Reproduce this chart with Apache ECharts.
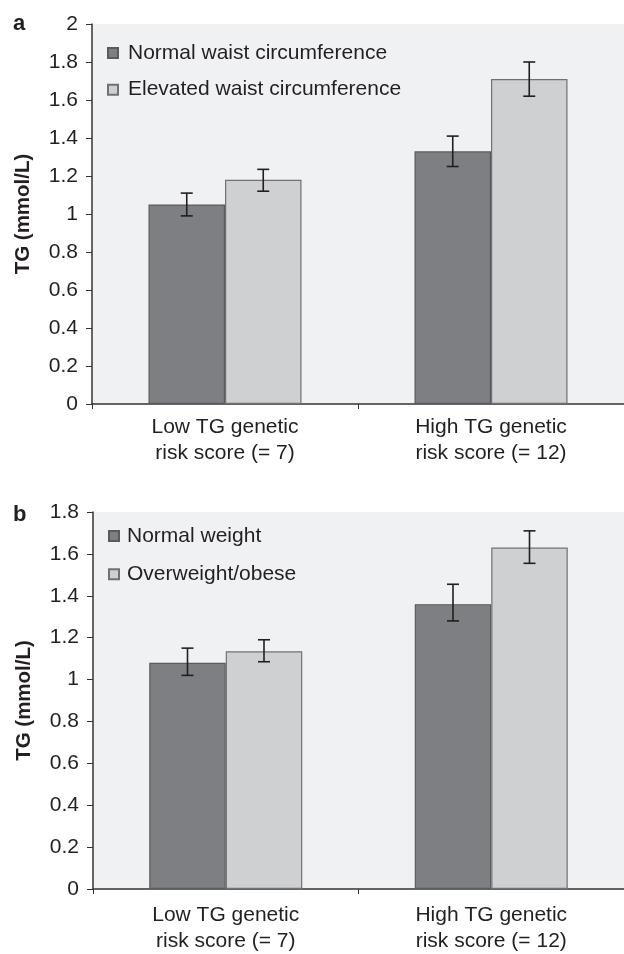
<!DOCTYPE html>
<html>
<head>
<meta charset="utf-8">
<script src="https://cdn.jsdelivr.net/npm/echarts@6/dist/echarts.min.js"></script>
<style>
html,body{margin:0;padding:0;background:#fff;}
#chart{width:624px;height:954px;}
</style>
</head>
<body>
<div id="chart"></div>
<script>
// ---- Data ----
const categories = ['Low TG genetic\nrisk score (= 7)', 'High TG genetic\nrisk score (= 12)'];
const yTicksA = [0, 0.2, 0.4, 0.6, 0.8, 1, 1.2, 1.4, 1.6, 1.8, 2];
const yTicksB = [0, 0.2, 0.4, 0.6, 0.8, 1, 1.2, 1.4, 1.6, 1.8];

const seriesNamesA = ['Normal waist circumference', 'Elevated waist circumference'];
const normalWaist = [1.05, 1.33];
const normalWaistLow = [0.99, 1.25];
const normalWaistHigh = [1.11, 1.41];
const elevatedWaist = [1.18, 1.71];
const elevatedWaistLow = [1.12, 1.62];
const elevatedWaistHigh = [1.235, 1.80];

const seriesNamesB = ['Normal weight', 'Overweight/obese'];
const normalWeight = [1.08, 1.36];
const normalWeightLow = [1.02, 1.28];
const normalWeightHigh = [1.15, 1.455];
const overweight = [1.135, 1.63];
const overweightLow = [1.085, 1.555];
const overweightHigh = [1.19, 1.71];

// ---- Styles ----
const FONT = 'Liberation Sans';
const TXT = '#231f20';
const DARK = '#7e7f83', DARK_B = '#5a5b5e';
const LIGHT = '#cfd0d2', LIGHT_B = '#707174';
const BG = '#f0f1f3';
const BAR_W = 76.5;

const chart = echarts.init(document.getElementById('chart'));

function errSeries(name, gridIdx, lows, highs, side) {
  return {
    type: 'custom', name: name + '_err', xAxisIndex: gridIdx, yAxisIndex: gridIdx,
    silent: true, z: 5,
    data: lows.map((l, i) => [i, l, highs[i]]),
    renderItem: function (params, api) {
      const lo = api.coord([api.value(0), api.value(1)]);
      const hi = api.coord([api.value(0), api.value(2)]);
      const x = lo[0] + side * BAR_W / 2;
      const c = 6;
      const st = { stroke: TXT, lineWidth: 1.6 };
      return { type: 'group', children: [
        { type: 'line', shape: { x1: x, y1: lo[1], x2: x, y2: hi[1] }, style: st },
        { type: 'line', shape: { x1: x - c, y1: lo[1], x2: x + c, y2: lo[1] }, style: st },
        { type: 'line', shape: { x1: x - c, y1: hi[1], x2: x + c, y2: hi[1] }, style: st }
      ]};
    }
  };
}

function barSeries(name, gridIdx, data, color, border) {
  return {
    type: 'bar', name: name, xAxisIndex: gridIdx, yAxisIndex: gridIdx,
    data: data, barWidth: BAR_W, barGap: '0%',
    itemStyle: { color: color, borderColor: border, borderWidth: 1.2 }
  };
}

function xAxis(gridIdx, margin) {
  return {
    type: 'category', gridIndex: gridIdx, data: categories,
    axisLine: { lineStyle: { color: '#333', width: 1.5 } },
    axisTick: { show: true, length: 5, lineStyle: { color: '#333' } },
    axisLabel: { fontFamily: FONT, fontSize: 21, color: TXT, lineHeight: 26, margin: margin }
  };
}

function yAxis(gridIdx, max) {
  return {
    type: 'value', gridIndex: gridIdx, min: 0, max: max, interval: 0.2,
    name: 'TG (mmol/L)', nameLocation: 'middle', nameGap: 58,
    nameTextStyle: { fontFamily: FONT, fontSize: 20.5, fontWeight: 'bold', color: TXT },
    splitLine: { show: false },
    axisLine: { show: true, lineStyle: { color: '#333', width: 1.5 } },
    axisTick: { show: true, length: 6, lineStyle: { color: '#333' } },
    axisLabel: { fontFamily: FONT, fontSize: 21, color: TXT, margin: 14 }
  };
}

const option = {
  animation: false,
  backgroundColor: '#fff',
  grid: [
    { left: 92, top: 24, height: 380, right: 0, show: true, backgroundColor: BG, borderWidth: 0 },
    { left: 93, top: 512, height: 380, right: 0, show: true, backgroundColor: BG, borderWidth: 0 }
  ],
  graphic: [
    { type: 'text', left: 13, top: 13, style: { text: 'a', font: 'bold 22px "Liberation Sans"', fill: TXT } },
    { type: 'text', left: 13, top: 504, style: { text: 'b', font: 'bold 22px "Liberation Sans"', fill: TXT } }
  ],
  legend: [
    { data: seriesNamesA, orient: 'vertical', left: 102, top: 37, itemWidth: 10, itemHeight: 10, itemGap: 14.7,
      icon: 'rect',
      textStyle: { fontFamily: FONT, fontSize: 21, color: TXT, lineHeight: 22, padding: [0, 0, 0, 5] } },
    { data: seriesNamesB, orient: 'vertical', left: 103, top: 520, itemWidth: 10, itemHeight: 10, itemGap: 16.3,
      icon: 'rect',
      textStyle: { fontFamily: FONT, fontSize: 21, color: TXT, lineHeight: 22, padding: [0, 0, 0, 3] } }
  ],
  xAxis: [xAxis(0, 10), xAxis(1, 13)],
  yAxis: [yAxis(0, 2), yAxis(1, 1.8)],
  series: [
    barSeries(seriesNamesA[0], 0, normalWaist, DARK, DARK_B),
    barSeries(seriesNamesA[1], 0, elevatedWaist, LIGHT, LIGHT_B),
    errSeries(seriesNamesA[0], 0, normalWaistLow, normalWaistHigh, -1),
    errSeries(seriesNamesA[1], 0, elevatedWaistLow, elevatedWaistHigh, 1),
    barSeries(seriesNamesB[0], 1, normalWeight, DARK, DARK_B),
    barSeries(seriesNamesB[1], 1, overweight, LIGHT, LIGHT_B),
    errSeries(seriesNamesB[0], 1, normalWeightLow, normalWeightHigh, -1),
    errSeries(seriesNamesB[1], 1, overweightLow, overweightHigh, 1)
  ]
};
chart.setOption(option);
</script>
</body>
</html>
